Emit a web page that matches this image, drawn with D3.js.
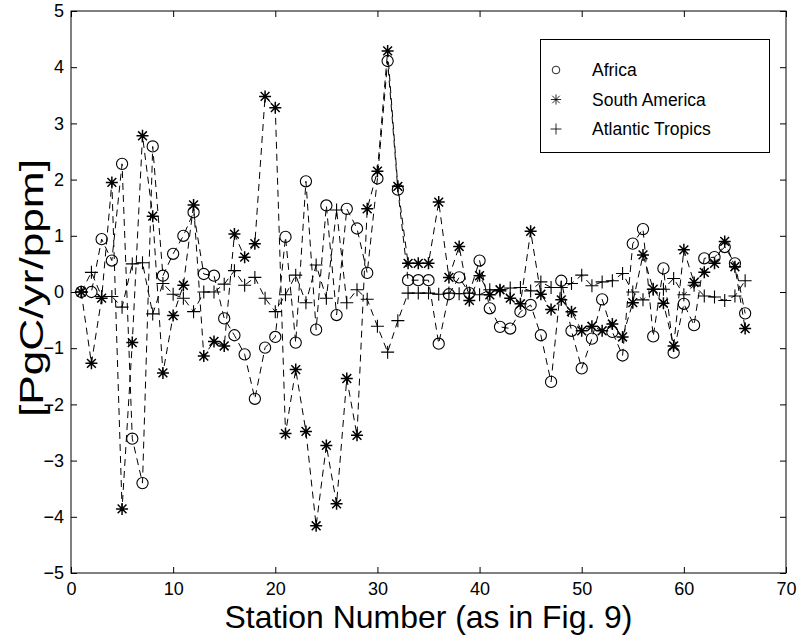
<!DOCTYPE html>
<html>
<head>
<meta charset="utf-8">
<script src="https://cdn.jsdelivr.net/npm/d3@7"></script>
<style>
  body { margin: 0; background: #fff; }
  svg { display: block; font-family: "Liberation Sans", Arial, Helvetica, sans-serif; }
</style>
</head>
<body>
<svg id="chart"></svg>
<script>
// station numbers 1..66
const stations = d3.range(1, 67);

// values
const africa = [0, 0, 0.94, 0.56, 2.28, -2.61, -3.4, 2.59, 0.29, 0.68,
    1.0, 1.42, 0.32, 0.29, -0.47, -0.77, -1.11, -1.9, -0.99, -0.8,
    0.98, -0.9, 1.97, -0.67, 1.54, -0.41, 1.48, 1.13, 0.34, 2.02,
    4.11, 1.82, 0.21, 0.21, 0.21, -0.92, -0.04, 0.26, -0.02, 0.56,
    -0.29, -0.62, -0.65, -0.35, -0.23, -0.77, -1.6, 0.2, -0.69, -1.36,
    -0.83, -0.13, -0.71, -1.13, 0.86, 1.12, -0.79, 0.42, -1.08, -0.21,
    -0.59, 0.6, 0.62, 0.8, 0.51, -0.38];

const southAmerica = [0, -1.27, -0.11, 1.95, -3.86, -0.9, 2.78, 1.35, -1.44, -0.42,
    0.12, 1.55, -1.14, -0.88, -0.96, 1.03, 0.62, 0.86, 3.48, 3.28,
    -2.52, -1.38, -2.48, -4.16, -2.73, -3.77, -1.54, -2.55, 1.48, 2.15,
    4.29, 1.88, 0.51, 0.51, 0.51, 1.6, 0.26, 0.81, -0.15, 0.29,
    -0.05, 0.04, -0.11, -0.21, 1.08, -0.04, -0.31, -0.14, -0.35, -0.69,
    -0.61, -0.69, -0.57, -0.8, -0.19, 0.66, 0.05, -0.2, -0.96, 0.75,
    0.17, 0.35, 0.51, 0.9, 0.45, -0.65];

const atlantic = [0, 0.35, -0.08, -0.08, -0.27, 0.5, 0.52, -0.39, 0.15, -0.04,
    -0.11, -0.35, 0.0, 0.0, 0.14, 0.38, 0.12, 0.26, -0.11, -0.35,
    -0.05, 0.3, -0.19, 0.48, -0.11, 1.46, -0.19, 0.04, -0.13, -0.61,
    -1.07, -0.51, -0.02, -0.02, -0.02, -0.04, -0.02, -0.03, -0.02, -0.05,
    0.04, 0.02, 0.07, 0.08, 0.02, 0.18, 0.08, 0.08, 0.15, 0.3,
    0.11, 0.18, 0.2, 0.33, 0.0, -0.14, 0.05, 0.05, 0.24, -0.05,
    0.12, -0.07, -0.09, -0.15, -0.07, 0.2];

const xTicks = [0, 10, 20, 30, 40, 50, 60, 70];
const yTicks = [-5, -4, -3, -2, -1, 0, 1, 2, 3, 4, 5];
const seriesNames = ["Africa", "South America", "Atlantic Tropics"];

const width = 798;
const height = 636;
const margin = {top: 11, right: 12, bottom: 63, left: 71};

const svg = d3.select("#chart")
    .attr("width", width)
    .attr("height", height);

const x = d3.scaleLinear().domain([0, 70]).range([margin.left, width - margin.right]);
const y = d3.scaleLinear().domain([-5, 5]).range([height - margin.bottom, margin.top]);

// axes, ticks pointing inward like matlab
const tickLen = 6;
function styleAxis(g) {
    g.select(".domain").remove();
    g.selectAll(".tick line").attr("stroke", "#000");
    g.selectAll(".tick text").attr("fill", "#000").attr("font-size", 18);
}

svg.append("g")
    .attr("transform", `translate(0,${y(-5)})`)
    .call(d3.axisBottom(x).tickValues(xTicks).tickSize(-tickLen).tickPadding(9))
    .call(styleAxis);

svg.append("g")
    .attr("transform", `translate(0,${y(5)})`)
    .call(d3.axisTop(x).tickValues(xTicks).tickSize(-tickLen).tickFormat(""))
    .call(styleAxis);

svg.append("g")
    .attr("transform", `translate(${x(0)},0)`)
    .call(d3.axisLeft(y).tickValues(yTicks).tickSize(-tickLen).tickPadding(7))
    .call(styleAxis);

svg.append("g")
    .attr("transform", `translate(${x(70)},0)`)
    .call(d3.axisRight(y).tickValues(yTicks).tickSize(-tickLen).tickFormat(""))
    .call(styleAxis);

// box
svg.append("rect")
    .attr("x", x(0))
    .attr("y", y(5))
    .attr("width", x(70) - x(0))
    .attr("height", y(-5) - y(5))
    .attr("fill", "none")
    .attr("stroke", "#000")
    .attr("stroke-width", 1);

// marker shapes, drawn around 0,0
const markerPath = {
    circle: d3.symbol().type(d3.symbolCircle).size(Math.PI * 5.6 * 5.6)(),
    star: "M0,-6V6M-6,0H6M-4.4,-4.4L4.4,4.4M-4.4,4.4L4.4,-4.4",
    plus: "M0,-6.5V6.5M-6.5,0H6.5"
};

const series = [
    {name: seriesNames[0], values: africa, marker: "circle"},
    {name: seriesNames[1], values: southAmerica, marker: "star"},
    {name: seriesNames[2], values: atlantic, marker: "plus"}
];

const line = d3.line()
    .x((d, i) => x(stations[i]))
    .y(d => y(d));

const plot = svg.append("g");

series.forEach(s => {
    plot.append("path")
        .datum(s.values)
        .attr("d", line)
        .attr("fill", "none")
        .attr("stroke", "#000")
        .attr("stroke-width", 1)
        .attr("stroke-dasharray", "7,5");
});

series.forEach(s => {
    plot.append("g")
        .selectAll("path")
        .data(s.values)
        .join("path")
        .attr("transform", (d, i) => `translate(${x(stations[i])},${y(d)})`)
        .attr("d", markerPath[s.marker])
        .attr("fill", "none")
        .attr("stroke", "#000")
        .attr("stroke-width", s.marker === "star" ? 1.5 : 1.1);
});

// legend
const legend = svg.append("g");
legend.append("rect")
    .attr("x", 540.5)
    .attr("y", 39.5)
    .attr("width", 229)
    .attr("height", 113)
    .attr("fill", "#fff")
    .attr("stroke", "#000");

const legendRows = legend.selectAll("g.row")
    .data(series)
    .join("g")
    .attr("class", "row")
    .attr("transform", (d, i) => `translate(556,${70 + i * 29.5})`);

legendRows.append("path")
    .attr("d", d => d.marker === "circle"
        ? d3.symbol().type(d3.symbolCircle).size(Math.PI * 4.5 * 4.5)()
        : markerPath[d.marker])
    .attr("transform", "scale(0.85)")
    .attr("fill", "none")
    .attr("stroke", "#000")
    .attr("stroke-width", 1);

legendRows.append("text")
    .attr("x", 36)
    .attr("dy", "0.36em")
    .attr("font-size", 17.5)
    .text(d => d.name);

// axis titles
svg.append("text")
    .attr("x", (x(0) + x(70)) / 2)
    .attr("y", 628)
    .attr("text-anchor", "middle")
    .attr("font-size", 32)
    .attr("textLength", 408)
    .attr("lengthAdjust", "spacingAndGlyphs")
    .text("Station Number (as in Fig. 9)");

svg.append("text")
    .attr("transform", `translate(43,${y(0) - 4}) rotate(-90)`)
    .attr("text-anchor", "middle")
    .attr("font-size", 33)
    .attr("textLength", 258)
    .attr("lengthAdjust", "spacingAndGlyphs")
    .text("[PgC/yr/ppm]");
</script>
</body>
</html>
